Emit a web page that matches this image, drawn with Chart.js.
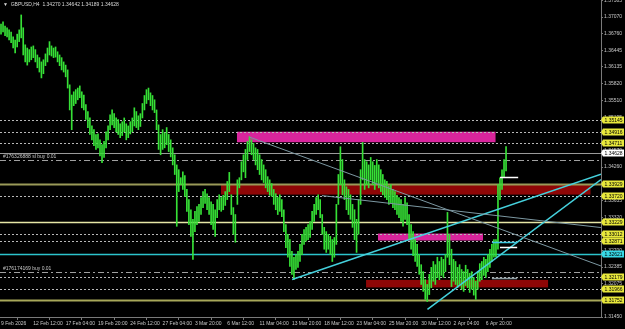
<!DOCTYPE html>
<html lang="en">
<head>
<meta charset="UTF-8">
<title>GBPUSD,H4</title>
<script src="https://cdn.jsdelivr.net/npm/chart.js"></script>
<style>
    html, body {
        margin: 0;
        padding: 0;
        background: #000;
    }
    #priceChart {
        display: block;
    }
</style>
</head>
<body>
<canvas id="priceChart" width="625" height="329"></canvas>
<script>
// H4 bars (high / low per bar, oldest first)
const barHighs = [
    1.3694, 1.3698, 1.3690, 1.3687, 1.3683, 1.3679, 1.3670, 1.3664, 1.3675, 1.3683,
    1.3711, 1.3687, 1.3655, 1.3649, 1.3646, 1.3651, 1.3653, 1.3646, 1.3636, 1.3631,
    1.3623, 1.3627, 1.3638, 1.3649, 1.3661, 1.3653, 1.3649, 1.3651, 1.3642, 1.3636,
    1.3631, 1.3623, 1.3617, 1.3608, 1.3580, 1.3561, 1.3567, 1.3571, 1.3574, 1.3578,
    1.3567, 1.3561, 1.3543, 1.3530, 1.3518, 1.3503, 1.3496, 1.3487, 1.3488, 1.3477,
    1.3468, 1.3474, 1.3492, 1.3503, 1.3524, 1.3533, 1.3526, 1.3518, 1.3515, 1.3507,
    1.3511, 1.3518, 1.3507, 1.3503, 1.3511, 1.3518, 1.3537, 1.3530, 1.3522, 1.3526,
    1.3545, 1.3560, 1.3571, 1.3574, 1.3565, 1.3560, 1.3552, 1.3533, 1.3505, 1.3487,
    1.3496, 1.3490, 1.3500, 1.3487, 1.3477, 1.3462, 1.3449, 1.3430, 1.3421, 1.3406,
    1.3417, 1.3410, 1.3384, 1.3365, 1.3346, 1.3328, 1.3343, 1.3352, 1.3356, 1.3369,
    1.3380, 1.3384, 1.3376, 1.3369, 1.3361, 1.3356, 1.3346, 1.3365, 1.3374, 1.3369,
    1.3373, 1.3380, 1.3399, 1.3416, 1.3374, 1.3350, 1.3337, 1.3402, 1.3406, 1.3436,
    1.3449, 1.3459, 1.3474, 1.3483, 1.3477, 1.3470, 1.3462, 1.3459, 1.3449, 1.3440,
    1.3430, 1.3421, 1.3408, 1.3402, 1.3395, 1.3384, 1.3376, 1.3369, 1.3374, 1.3365,
    1.3346, 1.3318, 1.3300, 1.3290, 1.3268, 1.3257, 1.3262, 1.3268, 1.3281, 1.3300,
    1.3309, 1.3313, 1.3318, 1.3324, 1.3343, 1.3356, 1.3369, 1.3374, 1.3365, 1.3337,
    1.3313, 1.3305, 1.3300, 1.3296, 1.3290, 1.3294, 1.3356, 1.3412, 1.3464, 1.3440,
    1.3402, 1.3389, 1.3384, 1.3374, 1.3356, 1.3346, 1.3328, 1.3365, 1.3421, 1.3472,
    1.3440, 1.3436, 1.3430, 1.3444, 1.3436, 1.3429, 1.3440, 1.3430, 1.3421, 1.3412,
    1.3402, 1.3399, 1.3391, 1.3393, 1.3384, 1.3380, 1.3373, 1.3369, 1.3365, 1.3356,
    1.3369, 1.3359, 1.3337, 1.3318, 1.3305, 1.3290, 1.3281, 1.3262, 1.3243, 1.3230,
    1.3215, 1.3206, 1.3225, 1.3238, 1.3249, 1.3243, 1.3257, 1.3249, 1.3257, 1.3253,
    1.3262, 1.3341, 1.3300, 1.3272, 1.3253, 1.3249, 1.3238, 1.3243, 1.3234, 1.3230,
    1.3242, 1.3234, 1.3227, 1.3230, 1.3219, 1.3212, 1.3230, 1.3245, 1.3249, 1.3257,
    1.3253, 1.3262, 1.3272, 1.3281, 1.3290, 1.3290, 1.3393, 1.3406, 1.3421, 1.3440,
    1.34642
];
const barLows = [
    1.3675, 1.3679, 1.3672, 1.3670, 1.3664, 1.3659, 1.3649, 1.3640, 1.3651, 1.3661,
    1.3668, 1.3636, 1.3623, 1.3617, 1.3623, 1.3627, 1.3631, 1.3623, 1.3612, 1.3604,
    1.3593, 1.3601, 1.3616, 1.3623, 1.3636, 1.3634, 1.3631, 1.3632, 1.3623, 1.3616,
    1.3608, 1.3604, 1.3595, 1.3574, 1.3533, 1.3496, 1.3541, 1.3545, 1.3552, 1.3556,
    1.3537, 1.3533, 1.3515, 1.3500, 1.3487, 1.3477, 1.3466, 1.3459, 1.3462, 1.3447,
    1.3434, 1.3444, 1.3462, 1.3477, 1.3496, 1.3505, 1.3500, 1.3492, 1.3487, 1.3481,
    1.3485, 1.3492, 1.3477, 1.3481, 1.3488, 1.3492, 1.3503, 1.3500, 1.3496, 1.3502,
    1.3518, 1.3533, 1.3545, 1.3552, 1.3541, 1.3533, 1.3528, 1.3496, 1.3459, 1.3449,
    1.3459, 1.3462, 1.3468, 1.3455, 1.3445, 1.3430, 1.3412, 1.3315, 1.3380, 1.3393,
    1.3384, 1.3371, 1.3343, 1.3318, 1.3296, 1.3253, 1.3305, 1.3318, 1.3324, 1.3337,
    1.3350, 1.3358, 1.3346, 1.3337, 1.3318, 1.3309, 1.3296, 1.3331, 1.3346, 1.3343,
    1.3346, 1.3354, 1.3365, 1.3380, 1.3337, 1.3300, 1.3285, 1.3356, 1.3387, 1.3402,
    1.3417, 1.3406, 1.3440, 1.3455, 1.3449, 1.3440, 1.3430, 1.3421, 1.3412, 1.3402,
    1.3397, 1.3387, 1.3380, 1.3373, 1.3371, 1.3356, 1.3346, 1.3337, 1.3343, 1.3333,
    1.3305, 1.3275, 1.3257, 1.3240, 1.3225, 1.3215, 1.3234, 1.3238, 1.3249, 1.3262,
    1.3281, 1.3287, 1.3290, 1.3294, 1.3309, 1.3324, 1.3337, 1.3346, 1.3331, 1.3300,
    1.3272, 1.3266, 1.3272, 1.3262, 1.3249, 1.3257, 1.3281, 1.3356, 1.3393, 1.3374,
    1.3365, 1.3346, 1.3337, 1.3328, 1.3313, 1.3290, 1.3266, 1.3300, 1.3356, 1.3402,
    1.3384, 1.3393, 1.3387, 1.3402, 1.3393, 1.3384, 1.3397, 1.3387, 1.3380, 1.3374,
    1.3369, 1.3365, 1.3356, 1.3359, 1.3350, 1.3346, 1.3337, 1.3331, 1.3324, 1.3315,
    1.3328, 1.3318, 1.3290, 1.3272, 1.3260, 1.3249, 1.3240, 1.3225, 1.3206, 1.3193,
    1.3178, 1.3174, 1.3187, 1.3200, 1.3212, 1.3206, 1.3219, 1.3215, 1.3223, 1.3219,
    1.3230, 1.3257, 1.3243, 1.3202, 1.3212, 1.3206, 1.3200, 1.3206, 1.3197, 1.3193,
    1.3204, 1.3200, 1.3191, 1.3197, 1.3186, 1.3178, 1.3197, 1.3212, 1.3215, 1.3223,
    1.3219, 1.3230, 1.3238, 1.3249, 1.3257, 1.3258, 1.3272, 1.3365, 1.3384, 1.3406,
    1.34189
];

// time axis: one label every 16 bars
const timeLabels = [
    '9 Feb 2026', '12 Feb 12:00', '17 Feb 04:00', '19 Feb 20:00', '24 Feb 12:00',
    '27 Feb 04:00', '3 Mar 20:00', '6 Mar 12:00', '11 Mar 04:00', '13 Mar 20:00',
    '18 Mar 12:00', '23 Mar 04:00', '25 Mar 20:00', '30 Mar 12:00', '2 Apr 04:00',
    '6 Apr 20:00'
];
const barsPerTimeLabel = 16;
const emptyBarsRight = 297;

// price axis
const priceTicks = [
    1.37385, 1.37070, 1.36760, 1.36445, 1.36135, 1.35820, 1.35510, 1.35195, 1.34885, 1.34570,
    1.34260, 1.33945, 1.33635, 1.33320, 1.33010, 1.32700, 1.32385, 1.32075, 1.31760, 1.31450
];
const priceMin = 1.3145;
const priceMax = 1.3739;

// horizontal lines
const levelPrices = [1.35146, 1.34922, 1.34716, 1.34529, 1.34389, 1.33940, 1.33716, 1.33239,
                     1.33014, 1.32883, 1.32622, 1.32285, 1.32192, 1.31967, 1.31761];
const levelKinds  = ['dot', 'dot', 'dot', 'bid', 'order', 'khaki', 'dot', 'pale',
                     'dot', 'dot', 'cyan', 'order', 'dot', 'dot', 'olive'];
const levelTags   = ['1.35145', '1.34916', '1.34711', '1.34628', '', '1.33929', '1.33720', '1.33229',
                     '1.33012', '1.32871', '1.32621', '', '1.32179', '1.31966', '1.31752'];
const levelNotes  = ['', '', '', '', '#176326888 sl buy 0.01', '', '', '',
                     '', '', '', '#176174169 buy 0.01', '', '', ''];

// rectangles (bar index from/to, price top/bottom)
const zoneFrom   = [116.8, 108.9, 186.6, 180.7];
const zoneTo     = [244.8, 291.8, 238.6, 270.8];
const zoneTop    = [1.34922, 1.33931, 1.33014, 1.32145];
const zoneBottom = [1.34725, 1.33744, 1.32883, 1.32004];
const zoneKinds  = ['pink', 'red', 'pink', 'red'];

// trend lines (bar index, price) -> (bar index, price)
const trendX1 = [144.1, 211.1, 122.9, 158.9];
const trendP1 = [1.32154, 1.31593, 1.34823, 1.33725];
const trendX2 = [297.0, 297.0, 297.0, 297.0];
const trendP2 = [1.34127, 1.34024, 1.32406, 1.33126];
const trendKinds = ['cyan', 'cyan', 'grey', 'grey'];

// short order marks next to the last bar
const markFrom   = [247.0, 243.0, 247.0, 243.0];
const markTo     = [256.0, 255.5, 255.5, 255.5];
const markPrices = [1.3408, 1.32855, 1.32771, 1.32182];
const markKinds  = ['white', 'cyan', 'white', 'grey'];

const headerText = '\u25BC  GBPUSD,H4  1.34270 1.34642 1.34189 1.34628';

const lineStyles = {
    dot:   { color: '#b8b8b8', width: 1, dash: [2, 2] },
    bid:   { color: '#9a9a9a', width: 1, dash: [] },
    order: { color: '#a0a0a0', width: 1, dash: [6, 3, 2, 3] },
    khaki: { color: '#9a9a58', width: 2, dash: [] },
    pale:  { color: '#e6e6a6', width: 1.5, dash: [] },
    cyan:  { color: '#2cc4cc', width: 1.5, dash: [] },
    olive: { color: '#a8a85a', width: 2, dash: [] }
};
const tagColors = { bid: '#ffffff', cyan: '#38d8e6' };
const zoneColors = { pink: '#d9259c', red: '#8e0606' };
const trendColors = { cyan: '#45d0dc', grey: '#7c98a2' };
const markColors = { white: '#ffffff', cyan: '#3cc8e0', grey: '#8a9aa0' };

Chart.defaults.font.family = "'Liberation Sans', Arial, sans-serif";

const mtOverlay = {
    id: 'mtOverlay',
    beforeDatasetsDraw(chart) {
        const { ctx, chartArea: a, scales: { x, y } } = chart;
        ctx.save();
        ctx.beginPath();
        ctx.rect(a.left, a.top, a.right - a.left, a.bottom - a.top);
        ctx.clip();

        // rectangles sit behind the bars
        zoneFrom.forEach((from, i) => {
            const x1 = x.getPixelForValue(from);
            const x2 = x.getPixelForValue(zoneTo[i]);
            const y1 = y.getPixelForValue(zoneTop[i]);
            const y2 = y.getPixelForValue(zoneBottom[i]);
            ctx.fillStyle = zoneColors[zoneKinds[i]];
            ctx.fillRect(x1, y1, x2 - x1, y2 - y1);
        });

        levelPrices.forEach((p, i) => {
            const st = lineStyles[levelKinds[i]];
            const py = Math.round(y.getPixelForValue(p)) + 0.5;
            ctx.strokeStyle = st.color;
            ctx.lineWidth = st.width;
            ctx.setLineDash(st.dash);
            ctx.beginPath();
            ctx.moveTo(a.left, py);
            ctx.lineTo(a.right, py);
            ctx.stroke();
            if (levelNotes[i]) {
                ctx.setLineDash([]);
                ctx.fillStyle = '#c8c8c8';
                ctx.font = "5px 'Liberation Sans', Arial, sans-serif";
                ctx.textBaseline = 'bottom';
                ctx.textAlign = 'left';
                ctx.fillText(levelNotes[i], a.left + 3, py - 1);
            }
        });
        ctx.restore();
    },
    afterDatasetsDraw(chart) {
        const { ctx, chartArea: a, scales: { x, y } } = chart;
        ctx.save();
        ctx.beginPath();
        ctx.rect(a.left, a.top, a.right - a.left, a.bottom - a.top);
        ctx.clip();

        trendX1.forEach((x1, i) => {
            ctx.strokeStyle = trendColors[trendKinds[i]];
            ctx.lineWidth = trendKinds[i] === 'cyan' ? 1.5 : 1;
            ctx.beginPath();
            ctx.moveTo(x.getPixelForValue(x1), y.getPixelForValue(trendP1[i]));
            ctx.lineTo(x.getPixelForValue(trendX2[i]), y.getPixelForValue(trendP2[i]));
            ctx.stroke();
        });

        markFrom.forEach((from, i) => {
            const py = Math.round(y.getPixelForValue(markPrices[i])) + 0.5;
            ctx.strokeStyle = markColors[markKinds[i]];
            ctx.lineWidth = 1.5;
            ctx.beginPath();
            ctx.moveTo(x.getPixelForValue(from), py);
            ctx.lineTo(x.getPixelForValue(markTo[i]), py);
            ctx.stroke();
        });
        ctx.restore();
    },
    afterDraw(chart) {
        const { ctx, chartArea: a, scales: { y } } = chart;
        ctx.save();
        ctx.font = "5px 'Liberation Sans', Arial, sans-serif";
        ctx.textBaseline = 'middle';
        ctx.textAlign = 'left';

        // price tags on the right axis
        levelPrices.forEach((p, i) => {
            if (!levelTags[i]) return;
            const py = Math.round(y.getPixelForValue(p));
            ctx.fillStyle = tagColors[levelKinds[i]] || '#e8e83c';
            ctx.fillRect(a.right + 2, py - 3.5, 21, 7);
            ctx.beginPath();
            ctx.moveTo(a.right, py);
            ctx.lineTo(a.right + 2, py - 3.5);
            ctx.lineTo(a.right + 2, py + 3.5);
            ctx.closePath();
            ctx.fill();
            ctx.fillStyle = '#000';
            ctx.fillText(levelTags[i], a.right + 3.5, py + 0.5);
        });

        ctx.fillStyle = '#d8d8d8';
        ctx.textBaseline = 'top';
        ctx.fillText(headerText, 3, 2);
        ctx.restore();
    }
};

const ctx = document.getElementById('priceChart').getContext('2d');
const priceChart = new Chart(ctx, {
    type: 'bar',
    data: {
        datasets: [{
            label: 'GBPUSD,H4',
            data: barHighs.map((h, i) => ({ x: i, y: [barLows[i], h] })),
            backgroundColor: '#36e036',
            borderWidth: 0,
            barThickness: 1
        }]
    },
    options: {
        responsive: false,
        animation: false,
        events: [],
        layout: { padding: 0 },
        plugins: {
            legend: { display: false },
            tooltip: { enabled: false }
        },
        scales: {
            x: {
                type: 'linear',
                offset: false,
                min: -0.5,
                max: emptyBarsRight,
                grid: { drawOnChartArea: false, tickLength: 3, color: '#7a7a7a' },
                border: { color: '#7a7a7a' },
                afterBuildTicks: (scale) => {
                    scale.ticks = timeLabels.map((t, k) => ({ value: k * barsPerTimeLabel }));
                },
                afterFit: (scale) => {
                    scale.height = 12;
                    scale.paddingLeft = 0;
                    scale.paddingRight = 0;
                },
                ticks: {
                    color: '#c8c8c8',
                    font: { size: 5 },
                    align: 'start',
                    padding: 1,
                    maxRotation: 0,
                    autoSkip: false,
                    callback: (v) => timeLabels[Math.round(v / barsPerTimeLabel)]
                }
            },
            y: {
                position: 'right',
                min: priceMin,
                max: priceMax,
                grid: { drawOnChartArea: false, tickLength: 2, color: '#7a7a7a' },
                border: { color: '#7a7a7a' },
                afterBuildTicks: (scale) => {
                    scale.ticks = priceTicks.map(v => ({ value: v }));
                },
                afterFit: (scale) => {
                    scale.width = 24;
                    scale.paddingTop = 0;
                    scale.paddingBottom = 0;
                },
                ticks: {
                    color: '#c8c8c8',
                    font: { size: 5 },
                    padding: 1,
                    autoSkip: false,
                    callback: (v) => v.toFixed(5)
                }
            }
        }
    },
    plugins: [mtOverlay]
});
</script>
</body>
</html>
